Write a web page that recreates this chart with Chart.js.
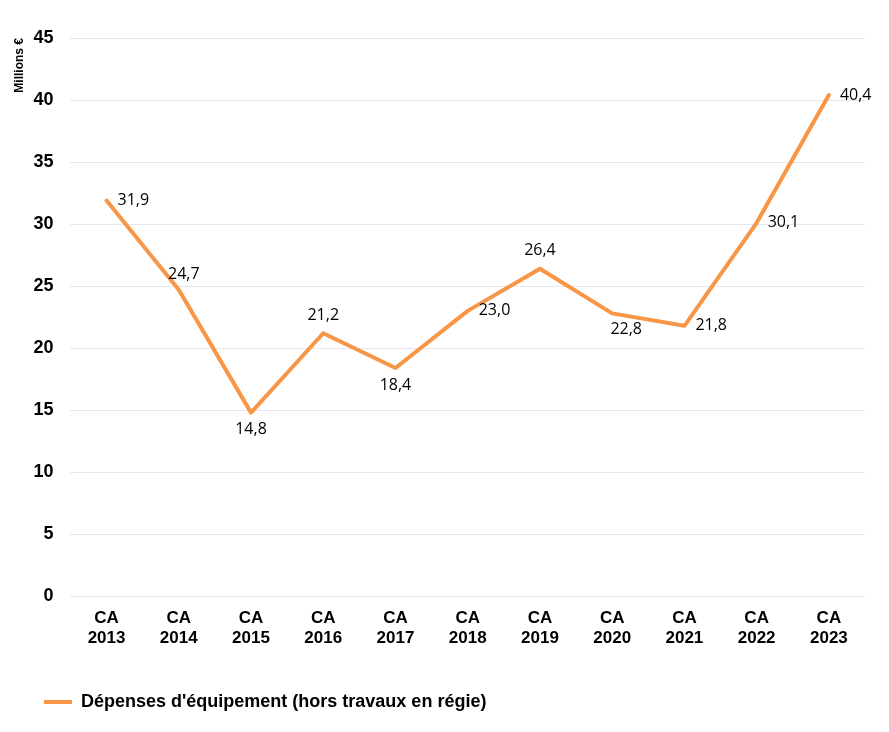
<!DOCTYPE html>
<html>
<head>
<meta charset="utf-8">
<script src="https://cdn.jsdelivr.net/npm/chart.js@4"></script>
<style>
  html, body { margin: 0; padding: 0; background: #fff; }
  #wrap { width: 889px; height: 732px; }
</style>
</head>
<body>
<div id="wrap"><canvas id="graph"></canvas></div>
<script>
const annees = ['2013', '2014', '2015', '2016', '2017', '2018', '2019', '2020', '2021', '2022', '2023'];
const depenses = [31.9, 24.7, 14.8, 21.2, 18.4, 23.0, 26.4, 22.8, 21.8, 30.1, 40.4];
// where each value label sits relative to its point
const positions = ['right', 'aboveRight', 'below', 'above', 'below', 'right', 'above', 'belowRight', 'right', 'right', 'right'];

const orange = '#F79646';
const police = '"Liberation Sans", Arial, sans-serif';

const etiquettes = {
    id: 'etiquettes',
    afterDatasetsDraw(chart) {
        const ctx = chart.ctx;
        const meta = chart.getDatasetMeta(0);
        ctx.save();
        ctx.font = '16px "Open Sans", sans-serif';
        ctx.fillStyle = '#000';
        ctx.textBaseline = 'middle';
        meta.data.forEach((pt, i) => {
            const txt = depenses[i].toFixed(1).replace('.', ',');
            let x = pt.x, y = pt.y;
            switch (positions[i]) {
                case 'right': ctx.textAlign = 'left'; x += 11; break;
                case 'above': ctx.textAlign = 'center'; y -= 18; break;
                case 'below': ctx.textAlign = 'center'; y += 17; break;
                case 'aboveRight': ctx.textAlign = 'center'; x += 5; y -= 15; break;
                case 'belowRight': ctx.textAlign = 'center'; x += 14; y += 16; break;
            }
            ctx.fillText(txt, x, y);
        });
        ctx.restore();
    }
};

new Chart(document.getElementById('graph'), {
    type: 'line',
    data: {
        labels: annees.map(a => ['CA', a]),
        datasets: [{
            label: "Dépenses d'équipement (hors travaux en régie)",
            data: depenses,
            borderColor: orange,
            backgroundColor: orange,
            borderWidth: 4,
            borderCapStyle: 'round',
            borderJoinStyle: 'round',
            pointRadius: 0,
            pointStyle: 'line',
            tension: 0
        }]
    },
    options: {
        responsive: true,
        maintainAspectRatio: false,
        animation: false,
        layout: { padding: { top: 38, right: 24, left: 12, bottom: 11 } },
        plugins: {
            tooltip: { enabled: false },
            legend: {
                position: 'bottom',
                align: 'start',
                labels: {
                    color: '#000',
                    usePointStyle: true,
                    pointStyleWidth: 28,
                    padding: 32,
                    font: { family: police, size: 18, weight: 'bold' }
                }
            }
        },
        scales: {
            x: {
                offset: true,
                grid: { display: false },
                border: { display: false },
                afterFit: (scale) => { scale.height += 8; },
                ticks: {
                    color: '#000',
                    maxRotation: 0,
                    padding: 4,
                    font: { family: police, size: 17, weight: 'bold', lineHeight: 1.2 }
                }
            },
            y: {
                min: 0,
                max: 45,
                grid: { color: '#e6e6f2', lineWidth: 1, drawTicks: false },
                border: { display: false },
                title: {
                    display: true,
                    text: 'Millions €',
                    align: 'end',
                    color: '#000',
                    padding: { top: 0, bottom: -10 },
                    font: { family: police, size: 12, weight: 'bold' }
                },
                ticks: {
                    stepSize: 5,
                    color: '#000',
                    padding: 17,
                    font: { family: police, size: 18, weight: 'bold' }
                }
            }
        }
    },
    plugins: [etiquettes]
});
</script>
</body>
</html>
